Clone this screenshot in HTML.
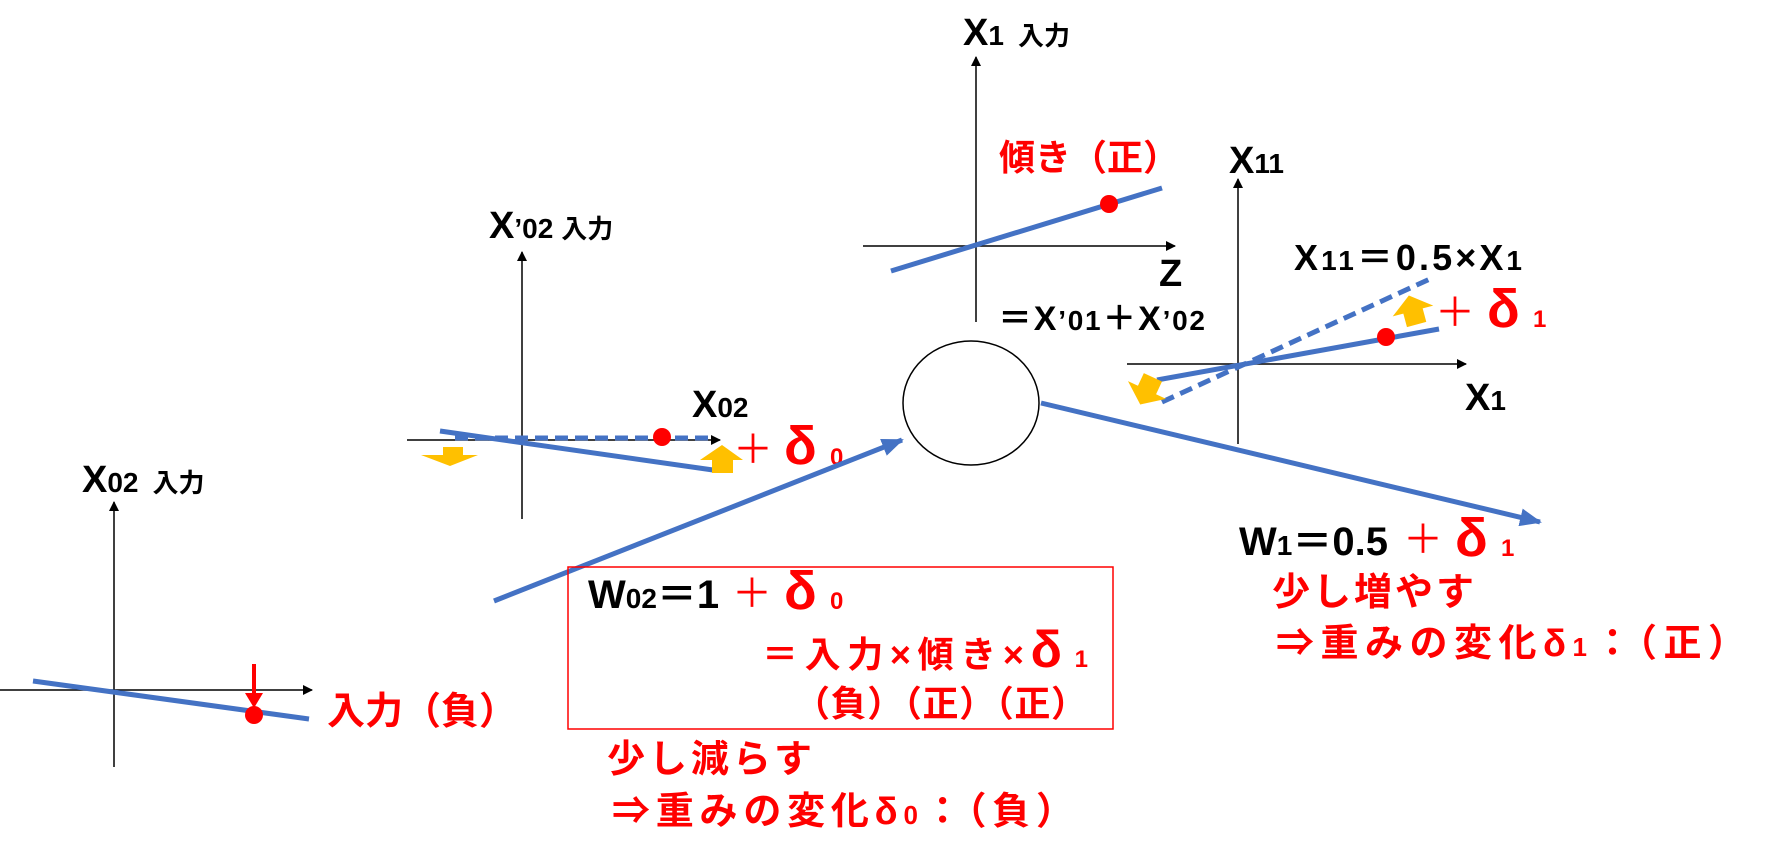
<!DOCTYPE html>
<html><head><meta charset="utf-8"><style>
html,body{margin:0;padding:0;background:#fff;}
svg{display:block;}
text{font-family:"Liberation Sans","Noto Sans CJK JP",sans-serif;font-weight:bold;}
.k{fill:#000}.r{fill:#f00}
</style></head><body>
<svg width="1773" height="859" viewBox="0 0 1773 859" xmlns="http://www.w3.org/2000/svg">
<defs>
<marker id="ah" markerWidth="10" markerHeight="10" refX="9" refY="5" orient="auto" markerUnits="userSpaceOnUse">
<path d="M0,0 L10,5 L0,10 z" fill="#000"/></marker>
<marker id="bh" markerWidth="22" markerHeight="18" refX="20" refY="9" orient="auto" markerUnits="userSpaceOnUse">
<path d="M0,0 L22,9 L0,18 z" fill="#4472C4"/></marker>
</defs>

<!-- left chart -->
<line x1="114" y1="767" x2="114" y2="502" stroke="#000" stroke-width="1.5" marker-end="url(#ah)"/>
<line x1="0" y1="690" x2="312" y2="690" stroke="#000" stroke-width="1.5" marker-end="url(#ah)"/>
<line x1="33" y1="681" x2="309" y2="719" stroke="#4472C4" stroke-width="5"/>
<line x1="254" y1="664" x2="254" y2="695" stroke="#f00" stroke-width="4"/>
<path d="M245,693 L263,693 L254,708 z" fill="#f00"/>
<circle cx="254" cy="715" r="9" fill="#f00"/>
<text x="82" y="492" font-size="38" class="k">X<tspan font-size="28">02</tspan><tspan font-size="26" dx="14">入力</tspan></text>
<text x="327" y="724" font-size="38" class="r">入力（負）</text>

<!-- middle-left chart -->
<line x1="522" y1="519" x2="522" y2="252" stroke="#000" stroke-width="1.5" marker-end="url(#ah)"/>
<line x1="407" y1="440" x2="720" y2="440" stroke="#000" stroke-width="1.5" marker-end="url(#ah)"/>
<line x1="455" y1="438" x2="708" y2="438" stroke="#4472C4" stroke-width="5" stroke-dasharray="13,7"/>
<line x1="440" y1="431" x2="713" y2="470" stroke="#4472C4" stroke-width="5"/>
<circle cx="662" cy="437" r="9" fill="#f00"/>
<path d="M443,447 L463,447 L463,455 L478,455 L450,466 L421,455 L443,455 z" fill="#FFC000"/>
<path d="M722,445 L743,460 L733,460 L733,473 L712,473 L712,460 L700,460 z" fill="#FFC000"/>
<text x="489" y="238" font-size="38" class="k">X<tspan font-size="28">’02</tspan><tspan font-size="26" dx="8">入力</tspan></text>
<text x="692" y="417" font-size="38" class="k">X<tspan font-size="28">02</tspan></text>
<text x="733" y="463" font-size="40" class="r" style="font-weight:normal">＋</text>
<text x="784" y="464" font-size="54" class="r">δ</text>
<text x="830" y="465" font-size="24" class="r">0</text>

<!-- top chart -->
<line x1="976" y1="322" x2="976" y2="57" stroke="#000" stroke-width="1.5" marker-end="url(#ah)"/>
<line x1="863" y1="246" x2="1175" y2="246" stroke="#000" stroke-width="1.5" marker-end="url(#ah)"/>
<line x1="891" y1="271" x2="1162" y2="188" stroke="#4472C4" stroke-width="5"/>
<circle cx="1109" cy="204" r="9" fill="#f00"/>
<text x="963" y="45" font-size="38" class="k">X<tspan font-size="28">1</tspan><tspan font-size="26" dx="14">入力</tspan></text>
<text x="999" y="170" font-size="36" class="r">傾き（正）</text>
<text x="1159" y="286" font-size="38" class="k">Z</text>
<text x="998" y="330" font-size="34" class="k" textLength="207" lengthAdjust="spacing">＝X<tspan font-size="28">’01</tspan>＋X<tspan font-size="28">’02</tspan></text>

<!-- neuron -->
<ellipse cx="971" cy="403" rx="68" ry="62" fill="#fff" stroke="#000" stroke-width="1.5"/>
<line x1="494" y1="601" x2="902" y2="440" stroke="#4472C4" stroke-width="5" marker-end="url(#bh)"/>
<line x1="1041" y1="403" x2="1540" y2="522" stroke="#4472C4" stroke-width="5" marker-end="url(#bh)"/>

<!-- right chart -->
<line x1="1238" y1="444" x2="1238" y2="179" stroke="#000" stroke-width="1.5" marker-end="url(#ah)"/>
<line x1="1127" y1="364" x2="1466" y2="364" stroke="#000" stroke-width="1.5" marker-end="url(#ah)"/>
<line x1="1162" y1="402" x2="1432" y2="278" stroke="#4472C4" stroke-width="5" stroke-dasharray="13,7"/>
<line x1="1157" y1="380" x2="1439" y2="329" stroke="#4472C4" stroke-width="5"/>
<circle cx="1386" cy="337" r="9" fill="#f00"/>
<g transform="translate(1413,311) rotate(-15)"><path d="M0,-16 L21,0 L10,0 L10,14 L-10,14 L-10,0 L-21,0 z" fill="#FFC000"/></g>
<g transform="translate(1147,390) rotate(25)"><path d="M0,16 L21,0 L10,0 L10,-14 L-10,-14 L-10,0 L-21,0 z" fill="#FFC000"/></g>
<text x="1229" y="173" font-size="38" class="k">X<tspan font-size="28">11</tspan></text>
<text x="1294" y="270" font-size="36" class="k" textLength="228" lengthAdjust="spacing">X<tspan font-size="28">11</tspan>＝0.5×X<tspan font-size="28">1</tspan></text>
<text x="1435" y="326" font-size="40" class="r" style="font-weight:normal">＋</text>
<text x="1487" y="327" font-size="54" class="r">δ</text>
<text x="1533" y="327" font-size="24" class="r">1</text>
<text x="1465" y="410" font-size="38" class="k">X<tspan font-size="28">1</tspan></text>

<!-- W1 -->
<text x="1239" y="555" font-size="40" class="k">W<tspan font-size="28">1</tspan>＝0.5</text>
<text x="1403" y="553" font-size="40" class="r" style="font-weight:normal">＋</text>
<text x="1455" y="556" font-size="54" class="r">δ</text>
<text x="1501" y="556" font-size="24" class="r">1</text>
<text x="1272" y="605" font-size="38" class="r" textLength="202" lengthAdjust="spacing">少し増やす</text>
<text x="1276" y="656" font-size="38" class="r" textLength="470" lengthAdjust="spacing">⇒重みの変化δ<tspan font-size="26">1</tspan>：（正）</text>

<!-- W02 box -->
<rect x="568" y="567" width="545" height="162" fill="none" stroke="#f00" stroke-width="1.5"/>
<text x="588" y="608" font-size="40" class="k">W<tspan font-size="28">02</tspan>＝1</text>
<text x="732" y="607" font-size="40" class="r" style="font-weight:normal">＋</text>
<text x="784" y="609" font-size="54" class="r">δ</text>
<text x="830" y="609" font-size="24" class="r">0</text>
<text x="762" y="667" font-size="36" class="r" textLength="326" lengthAdjust="spacing">＝入力×傾き×<tspan font-size="52">δ</tspan><tspan font-size="24" dx="6">1</tspan></text>
<text x="794" y="716" font-size="36" class="r" textLength="293" lengthAdjust="spacing">（負）（正）（正）</text>
<text x="607" y="772" font-size="38" class="r" textLength="205" lengthAdjust="spacing">少し減らす</text>
<text x="612" y="824" font-size="38" class="r" textLength="462" lengthAdjust="spacing">⇒重みの変化δ<tspan font-size="26">0</tspan>：（負）</text>
</svg>
</body></html>
